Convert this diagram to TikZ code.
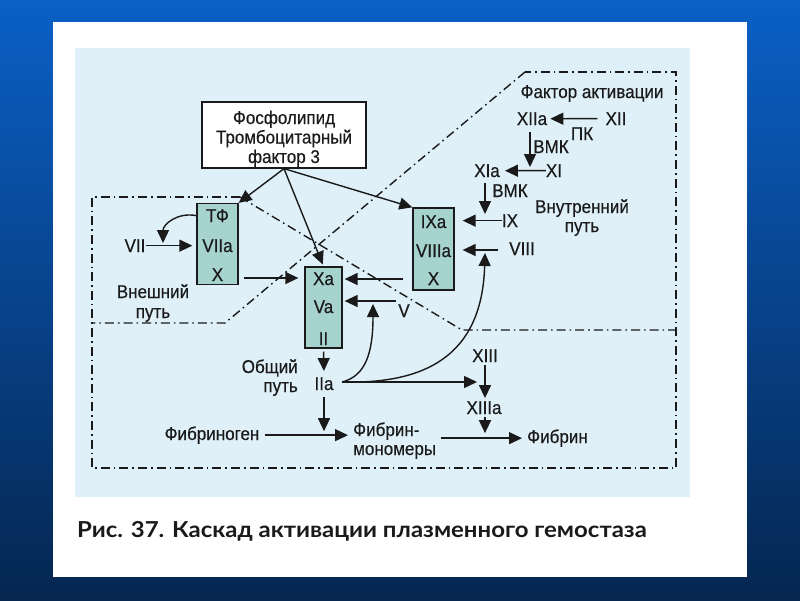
\documentclass[tikz,border=0pt]{standalone}
\usepackage{fontspec}
\setmainfont{Liberation Sans}[FakeStretch=0.92,FakeBold=0.4]
\newfontfamily\capfont{Lato}[FakeStretch=1.09]
\usetikzlibrary{arrows.meta}
\definecolor{bgtop}{HTML}{0A60C6}
\definecolor{bgbot}{HTML}{052650}
\definecolor{scan}{HTML}{DFF0F8}
\definecolor{boxfill}{HTML}{A6D3CE}
\definecolor{ink}{HTML}{1A1A1A}
\begin{document}
\begin{tikzpicture}[x=1pt,y=-1pt,
  lbl/.style={font=\fontsize{18.5}{19.5}\selectfont, inner sep=0pt, text=ink, anchor=base},
  fbox/.style={draw=ink, line width=1.3pt, fill=boxfill, inner sep=0pt},
  arr/.style={draw=ink, line width=1.4pt, -{Triangle[length=13pt,width=12pt]}},
  region/.style={draw=ink, line width=1.4pt, dash pattern=on 9pt off 4pt on 1.6pt off 4pt}]
\useasboundingbox (0,0) rectangle (800,600);
% background
\shade[top color=bgtop, bottom color=bgbot] (0,0) rectangle (800,600);
\fill[white] (53,22) rectangle (747,577);
\fill[scan] (75,48) rectangle (690,497);
% regions
\draw[region] (240,197) -- (92,197) -- (92,468) -- (676,468) -- (676,72) -- (525,72);
\draw[region] (525,72) -- (225,323) -- (92,323);
\draw[region] (240,197) -- (462,330) -- (676,330);
% boxes
\node[draw=ink, line width=1.3pt, fill=white, minimum width=164pt, minimum height=66pt] (pl) at (284,135) {};
\node[lbl, align=center] (pltext) at (284,163) {Фосфолипид\\Тромбоцитарный\\фактор 3};
\node[fbox, minimum width=41pt, minimum height=81pt] (tf) at (217.5,244) {};
\node[fbox, minimum width=37pt, minimum height=81pt] (xa) at (323.5,307.5) {};
\node[fbox, minimum width=41pt, minimum height=82pt] (ix) at (433.5,249) {};
\node[lbl] (tf1) at (217.5,222) {ТФ};
\node[lbl] (tf2) at (217.5,252) {VIIa};
\node[lbl] (tf3) at (217.5,281) {X};
\node[lbl] (xa1) at (323.5,285) {Xa};
\node[lbl] (xa2) at (323.5,313) {Va};
\node[lbl] (xa3) at (323.5,345) {II};
\node[lbl] (ix1) at (433.5,228) {IXa};
\node[lbl] (ix2) at (433.5,257) {VIIIa};
\node[lbl] (ix3) at (433.5,285) {X};
% labels
\node[lbl] (vii) at (135,252) {VII};
\node[lbl] (vnesh1) at (153,298) {Внешний};
\node[lbl] (vnesh2) at (153,318) {путь};
\node[lbl, anchor=base east] (obsh1) at (298,373) {Общий};
\node[lbl, anchor=base east] (obsh2) at (298,392) {путь};
\node[lbl] (iia) at (324,390) {IIa};
\node[lbl] (v) at (404,317) {V};
\node[lbl] (fgen) at (212,440) {Фибриноген};
\node[lbl, anchor=base west] (fm1) at (353,436) {Фибрин-};
\node[lbl, anchor=base west] (fm2) at (353,455) {мономеры};
\node[lbl, anchor=base west] (fib) at (527,443) {Фибрин};
\node[lbl] (xiii) at (485,362) {XIII};
\node[lbl] (xiiia) at (484,414) {XIIIa};
\node[lbl] (fa) at (592,98) {Фактор активации};
\node[lbl] (xiia) at (532,125) {XIIa};
\node[lbl] (xii) at (616,125) {XII};
\node[lbl] (pk) at (582,140) {ПК};
\node[lbl] (vmk1) at (551,153) {ВМК};
\node[lbl] (xia) at (487,177) {XIa};
\node[lbl] (xi) at (554,177) {XI};
\node[lbl] (vmk2) at (510,197) {ВМК};
\node[lbl] (ixl) at (510,227) {IX};
\node[lbl] (viii) at (522,255) {VIII};
\node[lbl] (vn1) at (582,213) {Внутренний};
\node[lbl] (vn2) at (582,232) {путь};
\node[font=\capfont\bfseries\fontsize{22}{24}\selectfont, text=ink, inner sep=0pt, anchor=base west] (cap) at (77,537) {Рис. 37. Каскад активации плазменного гемостаза};
% helper coordinates
\coordinate (tfcurve) at (163,243);
\coordinate (iias) at (342,382);
\coordinate (vstart) at (396,301);
\coordinate (vtip) at (373,304);
\coordinate (viiitip) at (485,253);
\coordinate (xiiitip) at (477,382);
\coordinate (viiistart) at (498,250);
% arrows
\draw[arr] (pl.south) -- (tf.north east);
\draw[arr, shorten >=2pt] (pl.south) -- (xa.north);
\draw[arr] (pl.south) -- (ix.north west);
\draw[arr, shorten >=4pt] (vii.east) -- (tf.west |- vii.east);
\draw[arr] (tf.west |- tf1) .. controls (178,212) and (163,224) .. (tfcurve);
\draw[arr, shorten <=5pt, shorten >=6pt] (tf.east |- 0,278) -- (xa.west |- 0,278);
\draw[arr, shorten <=9pt, shorten >=2pt] (ix.west |- 0,279) -- (xa.east |- 0,279);
\draw[arr, shorten >=2pt] (vstart) -- (xa.east |- vstart);
\draw[arr, shorten <=3pt, shorten >=6pt] (xa.south) -- (iia.north);
\draw[arr] (iias) .. controls (366,376) and (373,352) .. (vtip);
\draw[arr] (iias) .. controls (420,384) and (482,360) .. (viiitip);
\draw[arr] (iias) -- (xiiitip);
\draw[arr, shorten <=7pt, shorten >=4pt] (iia.south) -- (iia.south |- fgen.east);
\draw[arr, shorten <=5pt, shorten >=5pt] (fgen.east) -- (fm1.west |- fgen.east);
\draw[arr, shorten <=5pt, shorten >=5pt] (fm2.east |- fib.west) -- (fib.west);
\draw[arr, shorten <=3pt, shorten >=3pt] (xiii.south) -- (xiiia.north -| xiii.south);
\draw[arr, shorten <=3pt, shorten >=5pt] (xiiia.south -| xiii.south) -- (xiii.south |- fib.west);
\draw[arr, shorten <=8pt, shorten >=3pt] (xii.west) -- (xiia.east);
\draw[arr, shorten <=7pt, shorten >=5pt] (530,125) -- (530,172);
\draw[arr, shorten >=5pt] (xi.west) -- (xia.east);
\draw[arr, shorten <=6pt, shorten >=6pt] (485,177) -- (485,220);
\draw[arr, shorten >=8pt] (ixl.west) -- (ix.east |- ixl.west);
\draw[arr, shorten >=8pt] (viiistart) -- (ix.east |- viiistart);
\end{tikzpicture}
\end{document}
